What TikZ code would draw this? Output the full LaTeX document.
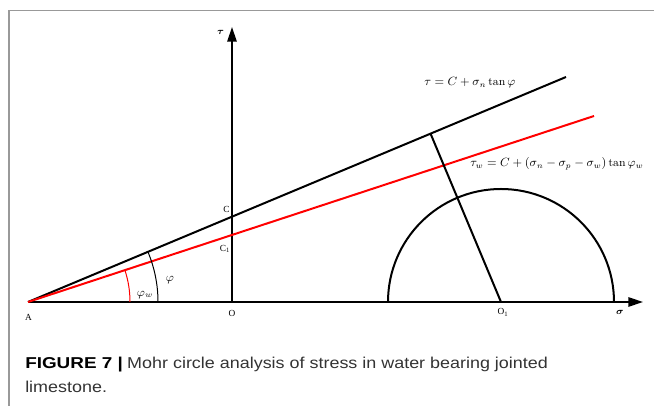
\documentclass[tikz,border=0pt]{standalone}
\usepackage{amsmath,amssymb,bm}
\usepackage{fontspec}
\newfontfamily\capfont{Liberation Sans}
\newfontfamily\lblfont{Liberation Serif}
\usepackage{tikz}
\usetikzlibrary{arrows.meta,positioning,calc}

\begin{document}
\begin{tikzpicture}[x=0.75pt,y=0.75pt,>={Triangle[length=11pt,width=7pt]},
  ax/.style={line width=1.5pt,->},
  ln/.style={line width=1.5pt},
  arcln/.style={line width=0.75pt},
  lbl/.style={font=\lblfont\fontsize{7}{8}\selectfont,inner sep=0pt},
  eq/.style={font=\fontsize{8.6}{10}\selectfont,inner sep=0pt}]
  \useasboundingbox (0,0) rectangle (654,406);
  \draw[gray!80,line width=1.2pt] (9,0) -- (9,395.5) -- (654,395.5);
  \coordinate (A) at (28,104);
  \coordinate (O) at (232,104);
  \coordinate (Ot) at (232,379);
  \coordinate (St) at (643,104);
  \coordinate (Bk) at (566,329);
  \coordinate (Rd) at (594,290);
  \coordinate (O1) at (501,104);
  \draw[ax] (A) -- (St);
  \draw[ax] (O) -- (Ot);
  \draw[ln] (A) -- (Bk);
  \draw[ln,red] (A) -- (Rd);
  \draw[ln] ($(O1)+(-113,0)$) arc (180:0:113);
  \coordinate (P) at ($(A)!(O1)!(Bk)$);
  \draw[ln] (O1) -- (P);
  \draw[arcln] ($(A)+(130,0)$) arc (0:22.7:130);
  \draw[arcln,red] ($(A)+(102,0)$) arc (0:18.2:102);
  \node[lbl] (lA) at (28.5,89) {A};
  \node[lbl] (lO) at (232,92.5) {O};
  \node[lbl] (lO1) at (503,93.5) {O\textsubscript{1}};
  \node[lbl] (lC) at (226.5,196.5) {C};
  \node[lbl] (lC1) at (225,157) {C\textsubscript{1}};
  \node[lbl] (lS) at (620,94) {$\boldsymbol{\sigma}$};
  \node[lbl] (lT) at (220.5,374) {$\boldsymbol{\tau}$};
  \node[eq] (phi) at (170,126) {$\varphi$};
  \node[eq] (phw) at (145,111) {$\varphi_w$};
  \node[eq] (eqa) at (470,323) {$\tau = C + \sigma_n \tan\varphi$};
  \node[eq] (eqb) at (557,242) {$\tau_w = C + (\sigma_n - \sigma_p - \sigma_w)\tan\varphi_w$};
  \node[anchor=base west,font=\capfont\fontsize{11.8}{18}\selectfont,text=black!80,align=left,inner sep=0pt] (cap) at (25,13)
    {\scalebox{1.2}[1]{\textcolor{black}{\textbf{FIGURE 7 |}}} \scalebox{1.14}[1]{Mohr circle analysis of stress in water bearing jointed}\\
     \scalebox{1.14}[1]{limestone.}};
\end{tikzpicture}
\end{document}
